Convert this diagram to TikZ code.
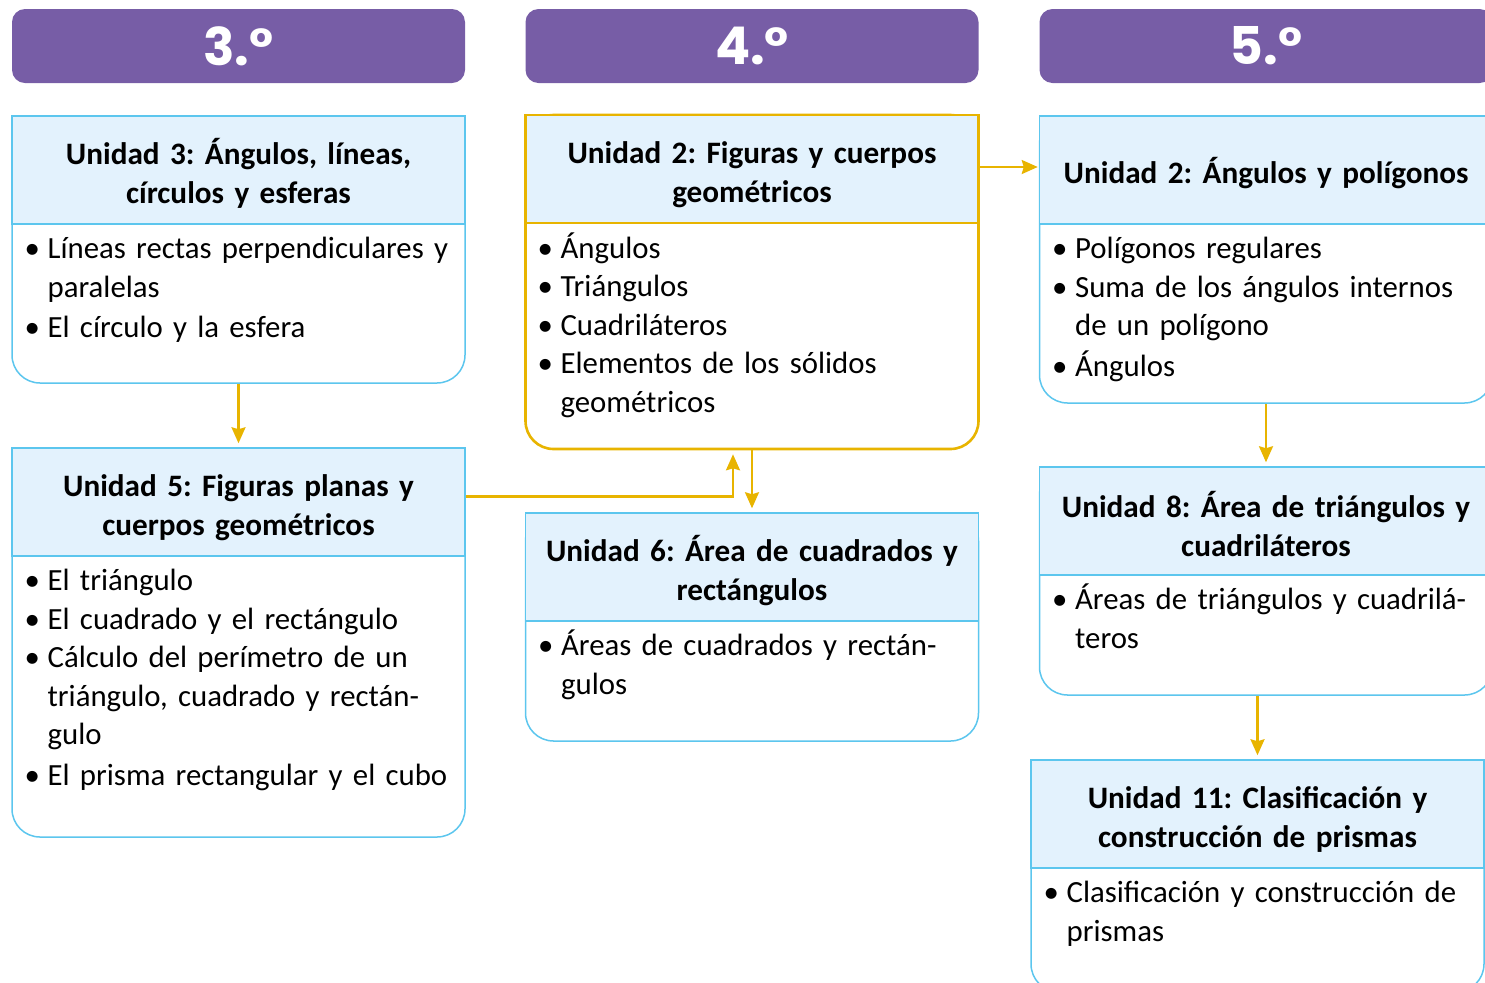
\documentclass[tikz,border=0pt]{standalone}
\usepackage{fontspec}
\setmainfont{Carlito}
\newfontfamily\gradefont{Poppins}
\usepackage{tikz}
\usetikzlibrary{arrows.meta, positioning, calc}
\definecolor{gradepurple}{RGB}{119, 93, 166}
\definecolor{unitblue}{RGB}{227, 242, 253}
\definecolor{edgeblue}{RGB}{92, 198, 238}
\definecolor{linkyellow}{RGB}{232, 180, 0}
\newcommand{\bul}[1]{\makebox[11.5pt][l]{\textbullet}\parbox[t]{208pt}{\raggedright\strut#1\strut}}
\frenchspacing

\begin{document}
\begin{tikzpicture}[x=0.5pt, y=-0.5pt,
    grade/.style={fill=gradepurple, rounded corners=6.5pt, minimum width=226.5pt, minimum height=37pt, text=white, font=\gradefont\bfseries\fontsize{26}{26}\selectfont},
    frame/.style={draw=edgeblue, line width=0.75pt, fill=white, rounded corners=14pt, minimum width=226.5pt},
    head/.style={draw=edgeblue, line width=0.75pt, fill=unitblue, text width=220pt, inner xsep=3.25pt, minimum height=54pt, align=center, font=\bfseries\fontsize{15.6}{19.5}\selectfont, execute at begin node={\rule{0pt}{16.5pt}}},
    body/.style={text width=220pt, inner xsep=6.5pt, inner ysep=3.2pt, align=left, font=\fontsize{15.4}{19.25}\selectfont},
    hot/.style={draw=linkyellow, line width=1.3pt},
    link/.style={draw=linkyellow, line width=1.15pt, -{Stealth[length=8pt, width=7pt, inset=1pt]}, shorten >=2pt}
]
\useasboundingbox (0,0) rectangle (1485,982);
\clip (0,0) rectangle (1485,982);

\node[grade] (g3) at (238.5,46) {3.°};
\node[grade] (g4) at (752,46) {4.°};
\node[grade] (g5) at (1266,46) {5.°};

\node[frame, minimum height=133.5pt] (u3) at (238.5,249.5) {};
\node[head, anchor=north] (u3h) at (u3.north) {Unidad 3: Ángulos, líneas,\\ círculos y esferas};
\node[body, anchor=north west] (u3b) at (u3h.south west) {\bul{Líneas rectas perpendiculares y\\ paralelas}\\ \bul{El círculo y la esfera}};

\node[frame, minimum height=194.5pt] (u5) at (238.5,642.5) {};
\node[head, anchor=north] (u5h) at (u5.north) {Unidad 5: Figuras planas y\\ cuerpos geométricos};
\node[body, anchor=north west] (u5b) at (u5h.south west) {\bul{El triángulo}\\ \bul{El cuadrado y el rectángulo}\\ \bul{Cálculo del perímetro de un\\ triángulo, cuadrado y rectán-\\ gulo}\\ \bul{El prisma rectangular y el cubo}};

\node[frame, hot, minimum height=167pt] (u24) at (752,282) {};
\node[head, hot, anchor=north] (u24h) at (u24.north) {Unidad 2: Figuras y cuerpos\\ geométricos};
\node[body, anchor=north west] (u24b) at (u24h.south west) {\bul{Ángulos}\\ \bul{Triángulos}\\ \bul{Cuadriláteros}\\ \bul{Elementos de los sólidos\\ geométricos}};

\node[frame, minimum height=114pt] (u6) at (752,627) {};
\node[head, anchor=north] (u6h) at (u6.north) {Unidad 6: Área de cuadrados y\\ rectángulos};
\node[body, anchor=north west] (u6b) at (u6h.south west) {\bul{Áreas de cuadrados y rectán-\\ gulos}};

\node[frame, minimum height=143.5pt] (u25) at (1266,259.5) {};
\node[head, anchor=north] (u25h) at (u25.north) {Unidad 2: Ángulos y polígonos};
\node[body, anchor=north west] (u25b) at (u25h.south west) {\bul{Polígonos regulares}\\ \bul{Suma de los ángulos internos\\ de un polígono}\\ \bul{Ángulos}};

\node[frame, minimum height=114pt] (u8) at (1266,581) {};
\node[head, anchor=north] (u8h) at (u8.north) {Unidad 8: Área de triángulos y\\ cuadriláteros};
\node[body, anchor=north west] (u8b) at (u8h.south west) {\bul{Áreas de triángulos y cuadrilá-\\ teros}};

\node[frame, minimum height=116pt] (u11) at (1257.5,876) {};
\node[head, anchor=north] (u11h) at (u11.north) {Unidad 11: Clasificación y\\ construcción de prismas};
\node[body, anchor=north west] (u11b) at (u11h.south west) {\bul{Clasificación y construcción de\\ prismas}};

\draw[link] (u3.south) -- (u5.north);
\draw[link] ([yshift=2.75pt]u5h.east) -| ([xshift=-9.5pt]u24.south);
\draw[link] (u24.south) -- (u6.north);
\draw[link, shorten >=0.5pt] ([yshift=1pt]u24h.east) -- ([yshift=1pt]u24h.east -| u25h.west);
\draw[link] (u25.south) -- (u8.north);
\draw[link] (u8.south -| u11.north) -- (u11.north);
\end{tikzpicture}
\end{document}
